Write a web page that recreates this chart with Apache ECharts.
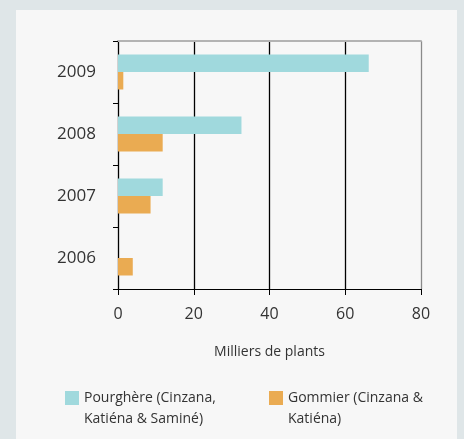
<!DOCTYPE html>
<html>
<head>
<meta charset="utf-8">
<script src="https://cdn.jsdelivr.net/npm/echarts@6/dist/echarts.min.js"></script>
<style>
  html, body { margin: 0; padding: 0; background: #dfe6e8; }
  #chart { width: 464px; height: 439px; }
</style>
</head>
<body>
<div id="chart"></div>
<script>
// Plantations par année (milliers de plants)
var years = ['2009', '2008', '2007', '2006'];
var pourghere = [66.2, 32.6, 11.8, 0];
var gommier = [1.4, 11.8, 8.6, 3.9];
var seriesNames = ['Pourghère (Cinzana, Katiéna & Saminé)', 'Gommier (Cinzana & Katiéna)'];
var legendLabels = ['Pourghère (Cinzana,\nKatiéna & Saminé)', 'Gommier (Cinzana &\nKatiéna)'];
var xTicks = { min: 0, max: 80, interval: 20 };
var xTitle = 'Milliers de plants';

var FONT = '"Open Sans", sans-serif';
var TEXT = '#333333';

// A blank first line keeps the swatch level with the first text line.
function legendFor(i, left) {
  return {
    left: left, top: 361.5,
    orient: 'vertical',
    data: [seriesNames[i]],
    icon: 'rect', itemWidth: 14, itemHeight: 14, itemGap: 0,
    selectedMode: false,
    formatter: function () { return '\n' + legendLabels[i]; },
    textStyle: {
      fontFamily: FONT, fontSize: 14, color: TEXT,
      lineHeight: 21, padding: [0, 0, 0, 0]
    }
  };
}

var chart = echarts.init(document.getElementById('chart'), null, { renderer: 'canvas' });
chart.setOption({
  backgroundColor: '#dfe6e8',
  animation: false,
  graphic: [{
    type: 'rect', z: -10, silent: true,
    shape: { x: 16, y: 10, width: 441, height: 440 },
    style: { fill: '#f7f7f7' }
  }],
  grid: { left: 118, right: 43, top: 41, bottom: 150, containLabel: false },
  legend: [legendFor(0, 60), legendFor(1, 264)],
  xAxis: [{
    type: 'value', position: 'bottom',
    min: xTicks.min, max: xTicks.max, interval: xTicks.interval,
    axisLine: { show: true, lineStyle: { color: '#000', width: 1 } },
    axisTick: { show: true, length: 6, lineStyle: { color: '#000' } },
    axisLabel: { fontFamily: FONT, fontSize: 16, color: TEXT, margin: 17 },
    splitLine: { show: true, lineStyle: { color: ['transparent', '#000', '#000', '#000', '#8a8a8a'], width: 1.3 } },
    name: xTitle, nameLocation: 'middle', nameGap: 56,
    nameTextStyle: { fontFamily: FONT, fontSize: 14, color: TEXT }
  }, {
    type: 'value', position: 'top',
    min: xTicks.min, max: xTicks.max, interval: xTicks.interval,
    axisLine: { show: true, lineStyle: { color: '#b3b3b3', width: 2 } },
    axisTick: { show: false }, axisLabel: { show: false }, splitLine: { show: false }
  }],
  yAxis: {
    type: 'category', inverse: true, data: years,
    axisLine: { show: true, lineStyle: { color: '#000', width: 1.3 } },
    axisTick: { show: true, length: 5, alignWithLabel: false, lineStyle: { color: '#000' } },
    axisLabel: { fontFamily: FONT, fontSize: 17, color: TEXT, margin: 22 },
    splitLine: { show: false }
  },
  series: [{
    name: seriesNames[0], type: 'bar', data: pourghere,
    barWidth: 17.5, barGap: '0%',
    itemStyle: { color: '#a0d9dd' }
  }, {
    name: seriesNames[1], type: 'bar', data: gommier,
    barWidth: 17.5, barGap: '0%',
    itemStyle: { color: '#eaab52' }
  }]
});
</script>
</body>
</html>
